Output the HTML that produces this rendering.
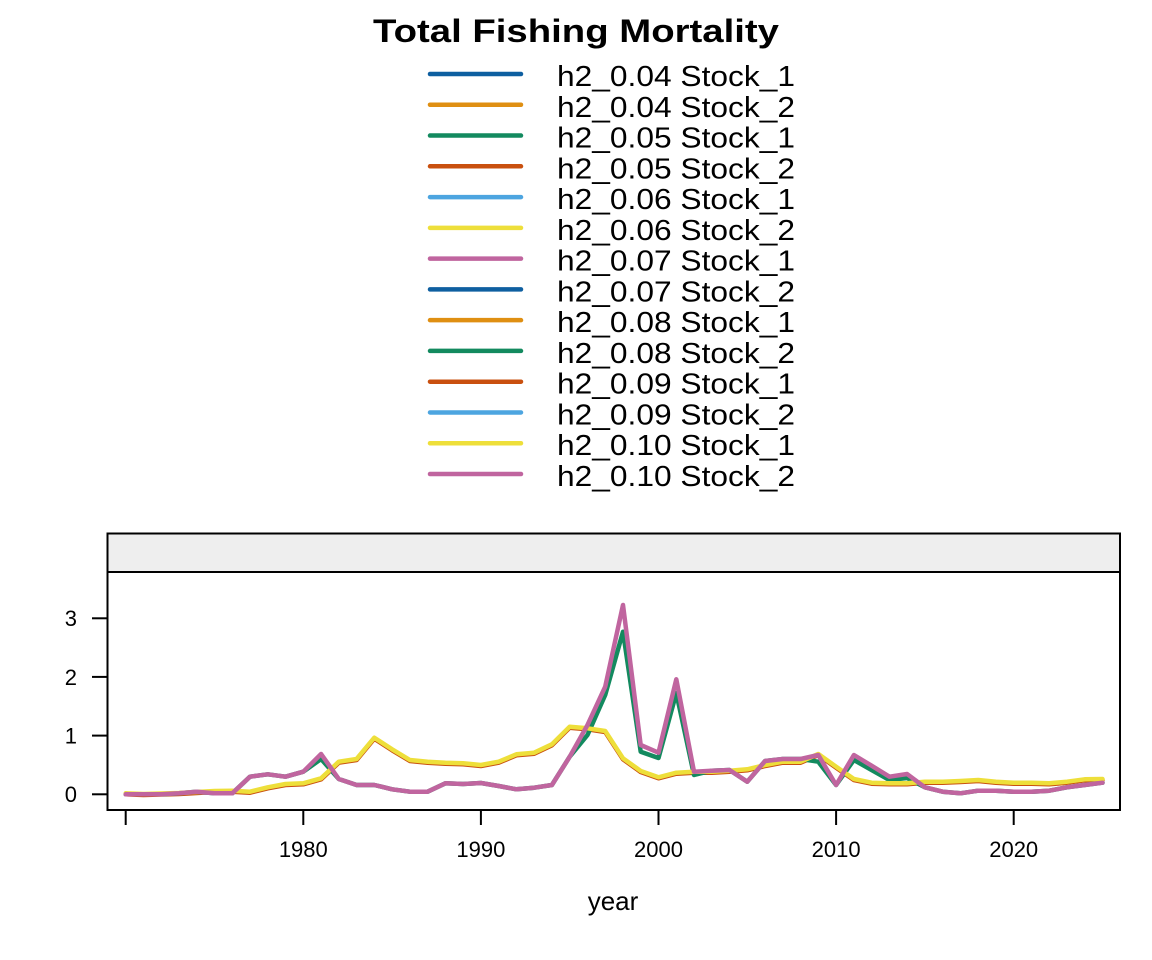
<!DOCTYPE html>
<html><head><meta charset="utf-8"><style>
html,body{margin:0;padding:0;background:#fff;}
svg{display:block;font-family:"Liberation Sans",Arial,sans-serif;}
</style></head><body>
<svg id="s" width="1152" height="960" viewBox="0 0 1152 960" xmlns="http://www.w3.org/2000/svg">
<rect width="1152" height="960" fill="#fff"/>
<text x="576" y="42" text-anchor="middle" font-weight="bold" font-size="32" textLength="406" lengthAdjust="spacingAndGlyphs">Total Fishing Mortality</text>
<g id="leg"></g>
<rect x="107.5" y="533.5" width="1012.5" height="38.5" fill="#eeeeee" stroke="#000" stroke-width="2"/>
<rect x="107.5" y="572" width="1012.5" height="238" fill="none" stroke="#000" stroke-width="2"/>
<g stroke="#000" stroke-width="2">
<line x1="92" y1="794.3" x2="107" y2="794.3"/>
<line x1="92" y1="735.6" x2="107" y2="735.6"/>
<line x1="92" y1="676.9" x2="107" y2="676.9"/>
<line x1="92" y1="618.3" x2="107" y2="618.3"/>
<line x1="125.7" y1="810" x2="125.7" y2="825"/>
<line x1="303.3" y1="810" x2="303.3" y2="825"/>
<line x1="480.9" y1="810" x2="480.9" y2="825"/>
<line x1="658.5" y1="810" x2="658.5" y2="825"/>
<line x1="836.1" y1="810" x2="836.1" y2="825"/>
<line x1="1013.7" y1="810" x2="1013.7" y2="825"/>
</g>
<g font-size="22" text-anchor="end">
<text x="77" y="802">0</text><text x="77" y="743.5">1</text><text x="77" y="685">2</text><text x="77" y="626">3</text>
</g>
<g font-size="22" text-anchor="middle">
<text x="303.3" y="857">1980</text><text x="480.9" y="857">1990</text><text x="658.5" y="857">2000</text><text x="836.1" y="857">2010</text><text x="1013.7" y="857">2020</text>
</g>
<text x="613" y="910" font-size="26" text-anchor="middle">year</text>
<g id="lines" fill="none" stroke-width="4.5" stroke-linejoin="round" stroke-linecap="round"></g>
</svg>
<script>
var cols=["#0E5FA0","#DF8F12","#138A5F","#C9500F","#4DA5E0","#EEDF3A","#C0659F"];
var labels=["h2_0.04 Stock_1","h2_0.04 Stock_2","h2_0.05 Stock_1","h2_0.05 Stock_2","h2_0.06 Stock_1","h2_0.06 Stock_2","h2_0.07 Stock_1","h2_0.07 Stock_2","h2_0.08 Stock_1","h2_0.08 Stock_2","h2_0.09 Stock_1","h2_0.09 Stock_2","h2_0.10 Stock_1","h2_0.10 Stock_2"];
var leg=document.getElementById("leg"),h="";
for(var i=0;i<14;i++){var y=74+i*30.77;var c=cols[i%7];
h+='<line x1="430" y1="'+y+'" x2="521" y2="'+y+'" stroke="'+c+'" stroke-width="4.5" stroke-linecap="round"/>';
h+='<text x="557" y="'+(y+12)+'" font-size="29" textLength="238" lengthAdjust="spacingAndGlyphs">'+labels[i]+'</text>';}
leg.innerHTML=h;
var pink=[794.3,794.3,794.3,793.3,791.7,793.3,793.3,776.7,774.3,776.7,771.7,754,779,785,785,789.3,791.7,791.7,783.3,784,783,786,789.3,787.7,785,756.7,725,686.7,605,745,752.7,679.3,771.7,770.7,770,781.7,761,759,759,755,785,755,765.7,776.7,774,787.3,791.7,793.3,790.7,790.7,791.7,791.7,790.7,787.3,785,782.7];
var green=pink.slice();
var adj={1981:759,1996:735,1997:695,1998:631.7,1999:751.7,2000:758,2001:693,2002:775,2009:761.7,2011:760,2012:770,2013:780,2014:778};
for(var k in adj){green[k-1970]=adj[k];}
var yel=[793.3,794,793.5,793,792,791,790.7,791.7,787.3,784,783.3,778.3,761.7,759,737.7,749.3,760,761.7,762.7,763.3,765,761.7,754.3,752.7,744.3,726.7,728.3,731,758.3,771,777.3,772.7,771.7,771.7,770.7,769.3,765,761.7,761.7,754,766.7,779,782.7,783.3,783.3,781.7,781.7,781,780,781.7,782.7,782.7,783.3,781.7,779.3,779];
function pts(a,dy){return a.map(function(v,i){return (125.7+17.76*i).toFixed(1)+","+(v+(dy||0)).toFixed(1);}).join(" ");}
var L=document.getElementById("lines"),s="";
s+='<polyline points="'+pts(yel,1)+'" stroke="#C9500F"/>';
s+='<polyline points="'+pts(green)+'" stroke="#138A5F"/>';
s+='<polyline points="'+pts(yel)+'" stroke="#EEDF3A"/>';
s+='<polyline points="'+pts(pink)+'" stroke="#C0659F"/>';
L.innerHTML=s;
</script>
</body></html>
